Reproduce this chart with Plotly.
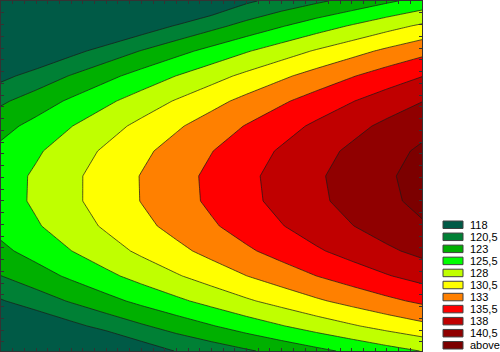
import plotly.graph_objects as go

# grid coordinates (axis units)
x_cols = [0, 3, 6, 9, 12, 15, 18, 21, 24, 27, 30, 33, 36]
y_rows = [0, 2, 4, 6, 8, 10, 12, 14, 16, 18, 20, 22, 24, 26, 28]

# estimated z values (rows top -> bottom, columns left -> right)
z_vals = [
    [104.95, 106.64, 108.42, 110.15, 111.85, 113.60, 115.60, 117.60, 118.90, 120.10, 121.30, 122.60, 123.86],
    [109.75, 111.42, 113.18, 114.88, 116.56, 118.19, 119.77, 121.34, 122.85, 124.33, 125.72, 127.11, 128.40],
    [113.88, 115.53, 117.26, 118.94, 120.60, 122.20, 123.76, 125.31, 126.79, 128.25, 129.62, 130.99, 132.25],
    [117.32, 118.95, 120.66, 122.32, 123.96, 125.54, 127.07, 128.60, 130.06, 131.49, 132.85, 134.19, 135.43],
    [120.09, 121.70, 123.39, 125.02, 126.64, 128.19, 129.70, 131.21, 132.65, 134.06, 135.39, 136.71, 137.93],
    [122.18, 123.77, 125.43, 127.05, 128.64, 130.17, 131.66, 133.14, 134.56, 135.95, 137.26, 138.55, 139.75],
    [123.59, 125.16, 126.80, 128.39, 129.96, 131.46, 132.93, 134.39, 135.79, 137.15, 138.44, 139.71, 140.89],
    [124.33, 125.87, 127.48, 129.05, 130.60, 132.08, 133.53, 134.97, 136.34, 137.68, 138.95, 140.19, 141.35],
    [124.38, 125.90, 127.49, 129.04, 130.57, 132.02, 133.45, 134.87, 136.21, 137.53, 138.78, 140.00, 141.13],
    [123.75, 125.25, 126.82, 128.34, 129.85, 131.28, 132.69, 134.08, 135.40, 136.71, 137.93, 139.12, 140.24],
    [122.45, 123.93, 125.47, 126.97, 128.46, 129.86, 131.25, 132.62, 133.92, 135.20, 136.40, 137.57, 138.66],
    [120.47, 121.92, 123.44, 124.92, 126.38, 127.77, 129.13, 130.48, 131.75, 133.01, 134.19, 135.34, 136.40],
    [117.80, 119.24, 120.73, 122.19, 123.63, 124.99, 126.33, 127.66, 128.91, 130.15, 131.30, 132.43, 133.47],
    [114.46, 115.87, 117.34, 118.78, 120.20, 121.54, 122.85, 124.16, 125.38, 126.60, 127.74, 128.84, 129.86],
    [110.44, 111.83, 113.28, 114.69, 116.60, 118.10, 119.10, 120.20, 121.30, 122.40, 123.49, 124.57, 125.57],
]

# contour levels and legend labels
level_start = 118.0
level_end = 140.5
level_step = 2.5
legend_labels = ["118", "120,5", "123", "125,5", "128", "130,5", "133", "135,5", "138", "140,5", "above"]
band_colors = ["#005A46", "#008035", "#00B000", "#00FF00", "#C0FF00", "#FFFF00",
               "#FF8000", "#FF0000", "#C00000", "#900000", "#7C0000"]

n = len(band_colors)
cscale = []
for k, col in enumerate(band_colors):
    lo = max(0.0, (k - 0.5) / (n - 1))
    hi = min(1.0, (k + 0.5) / (n - 1))
    cscale.append([lo, col])
    cscale.append([hi, col])

fig = go.Figure()
fig.add_trace(go.Contour(
    x=x_cols, y=y_rows, z=z_vals,
    autocontour=False,
    contours=dict(start=level_start, end=level_end, size=level_step, coloring="fill"),
    colorscale=cscale,
    line=dict(color="rgba(25,25,25,0.9)", width=0.8, smoothing=0),
    showscale=False,
    hoverinfo="skip",
))

W, H = 500, 352
ml, mr, mt, mb = 1, 78, 1, 1
pw, ph = W - ml - mr, H - mt - mb

def px_x(p):
    return (p - ml) / pw

def px_y(p):
    return 1 - (p - mt) / ph

shapes = []
annotations = []
for k, (lab, col) in enumerate(zip(legend_labels, band_colors)):
    top = 221 + 12.05 * k
    shapes.append(dict(type="rect", xref="paper", yref="paper",
                       x0=px_x(443), x1=px_x(463), y0=px_y(top), y1=px_y(top + 7.5),
                       fillcolor=col, line=dict(color="#404040", width=1)))
    annotations.append(dict(xref="paper", yref="paper", x=px_x(468), y=px_y(top + 3.8),
                            text=lab, showarrow=False, xanchor="left", yanchor="middle",
                            font=dict(family="Liberation Sans, Arial, sans-serif", size=11, color="#000000")))

fig.update_layout(
    width=W, height=H,
    margin=dict(l=ml, r=mr, t=mt, b=mb, pad=0),
    paper_bgcolor="white", plot_bgcolor="white",
    showlegend=False,
    shapes=shapes, annotations=annotations,
    xaxis=dict(range=[0, 36], showgrid=False, zeroline=False, showticklabels=False,
               ticks="inside", ticklen=3, tickwidth=1, tickcolor="#333333", dtick=1,
               showline=True, linecolor="#333333", linewidth=1, mirror="ticks"),
    yaxis=dict(range=[28, 0], showgrid=False, zeroline=False, showticklabels=False,
               ticks="inside", ticklen=3, tickwidth=1, tickcolor="#333333", dtick=0.94, tick0=0,
               showline=True, linecolor="#333333", linewidth=1, mirror="ticks"),
)

fig.write_html("out.html")
